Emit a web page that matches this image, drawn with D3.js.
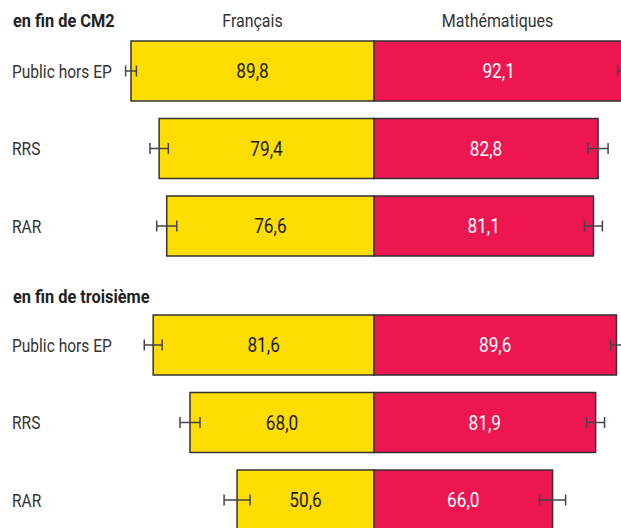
<!DOCTYPE html>
<html lang="fr">
<head>
<meta charset="UTF-8">
<title>CM2 / troisième</title>
<script src="https://d3js.org/d3.v7.min.js"></script>
<style>
  body { margin: 0; background: #fff; }
  text { font-family: "Roboto", "Liberation Sans", sans-serif; }
</style>
</head>
<body>
<script>
  var width = 621;
  var height = 528;

  var rows = ["Public hors EP", "RRS", "RAR"];
  var subjects = ["Français", "Mathématiques"];
  var sectionTitles = ["en fin de CM2", "en fin de troisième"];

  var francaisCM2 = [89.8, 79.4, 76.6];
  var mathsCM2 = [92.1, 82.8, 81.1];
  var francais3e = [81.6, 68.0, 50.6];
  var maths3e = [89.6, 81.9, 66.0];

  // demi-largeur des intervalles de confiance (points)
  var errFrancaisCM2 = [2.0, 3.4, 3.7];
  var errMathsCM2 = [2.0, 3.7, 3.3];
  var errFrancais3e = [3.3, 3.7, 4.8];
  var errMaths3e = [2.2, 3.3, 4.8];

  var yellow = "#ffdd00";
  var red = "#ee1651";

  var svg = d3.select("body")
    .append("svg")
    .attr("width", width)
    .attr("height", height);

  var center = 374;
  var xF = d3.scaleLinear().domain([0, 100]).range([center, center - 270.6]);
  var xM = d3.scaleLinear().domain([0, 100]).range([center, center + 270.6]);

  // texte étroit : on écrase horizontalement autour du point d'ancrage
  function narrowText(parent, x, y, str, size, anchor, fill, sq, weight) {
    return parent.append("g")
      .attr("transform", "translate(" + x + "," + y + ") scale(" + (sq || 0.84) + ",1)")
      .append("text")
      .attr("dy", "0.36em")
      .attr("text-anchor", anchor)
      .attr("font-size", size)
      .attr("font-weight", weight || "normal")
      .attr("fill", fill)
      .text(str);
  }

  var sections = [
    { title: sectionTitles[0], titleY: 20, range: [32.25, 264.75], fr: francaisCM2, ma: mathsCM2, efr: errFrancaisCM2, ema: errMathsCM2 },
    { title: sectionTitles[1], titleY: 296, range: [306.25, 538.75], fr: francais3e, ma: maths3e, efr: errFrancais3e, ema: errMaths3e }
  ];

  // en-têtes des colonnes
  narrowText(svg, (xF(89.8) + center) / 2, 20, subjects[0], 19, "middle", "#333");
  narrowText(svg, (center + width) / 2, 20, subjects[1], 19, "middle", "#333");

  var fmt = function (v) { return v.toFixed(1).replace(".", ","); };

  sections.forEach(function (s) {
    var y = d3.scaleBand()
      .domain(rows)
      .range(s.range)
      .paddingInner(0.226)
      .paddingOuter(0.113);

    narrowText(svg, 13, s.titleY, s.title, 19, "start", "#222", 0.86, "bold");

    var data = rows.map(function (r, i) {
      return { row: r, fr: s.fr[i], ma: s.ma[i], efr: s.efr[i], ema: s.ema[i] };
    });

    var g = svg.append("g");

    data.forEach(function (d) {
      var cy = y(d.row) + y.bandwidth() / 2;

      narrowText(g, 12, cy, d.row, 18.5, "start", "#333");

      g.append("rect")
        .attr("x", xF(d.fr))
        .attr("y", y(d.row))
        .attr("width", center - xF(d.fr))
        .attr("height", y.bandwidth())
        .attr("fill", yellow)
        .attr("stroke", "#333")
        .attr("stroke-width", 1.5);

      g.append("rect")
        .attr("x", center)
        .attr("y", y(d.row))
        .attr("width", xM(d.ma) - center)
        .attr("height", y.bandwidth())
        .attr("fill", red)
        .attr("stroke", "#333")
        .attr("stroke-width", 1.5);

      narrowText(g, (xF(d.fr) + center) / 2, cy, fmt(d.fr), 20.5, "middle", "#1a1a1a", 0.84);
      narrowText(g, (xM(d.ma) + center) / 2, cy, fmt(d.ma), 20.5, "middle", "#fff", 0.84);
    });

    // barres d'erreur
    var errs = [];
    data.forEach(function (d) {
      errs.push({ row: d.row, lo: xF(d.fr + d.efr), hi: xF(d.fr - d.efr) });
      errs.push({ row: d.row, lo: xM(d.ma - d.ema), hi: xM(d.ma + d.ema) });
    });

    var eb = g.selectAll(".err")
      .data(errs)
      .enter()
      .append("g")
      .attr("class", "err")
      .attr("stroke", "#444")
      .attr("stroke-width", 1.5)
      .attr("transform", function (d) { return "translate(0," + (y(d.row) + y.bandwidth() / 2) + ")"; });

    eb.append("line")
      .attr("x1", function (d) { return d.lo; })
      .attr("x2", function (d) { return d.hi; });
    eb.append("line")
      .attr("x1", function (d) { return d.lo; })
      .attr("x2", function (d) { return d.lo; })
      .attr("y1", -5.5).attr("y2", 5.5);
    eb.append("line")
      .attr("x1", function (d) { return d.hi; })
      .attr("x2", function (d) { return d.hi; })
      .attr("y1", -5.5).attr("y2", 5.5);
  });
</script>
</body>
</html>
